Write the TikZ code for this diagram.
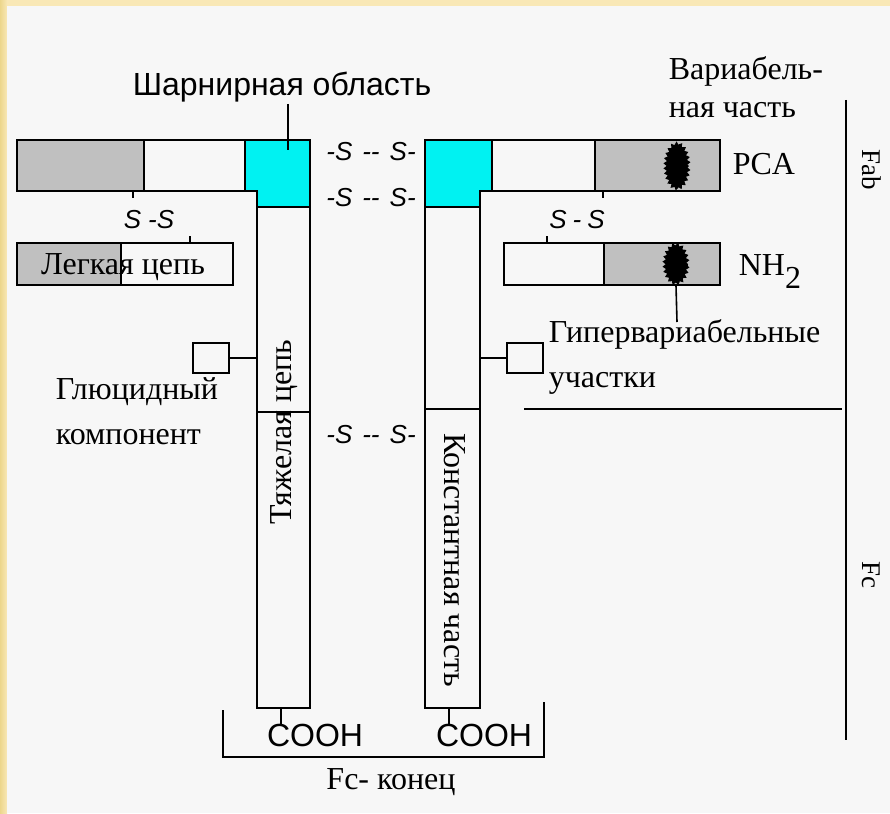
\documentclass[tikz,border=0pt]{standalone}
\usepackage{fontspec}
\usetikzlibrary{shapes.geometric,decorations.pathmorphing}
\setmainfont{Liberation Serif}
\newfontfamily\labsans{Liberation Sans}
\definecolor{framecol}{RGB}{249,232,182}
\definecolor{framedark}{RGB}{236,214,140}
\definecolor{panelcol}{RGB}{247,247,247}
\definecolor{greyfill}{RGB}{192,192,192}
\definecolor{hingecol}{RGB}{0,242,242}
\tikzset{
  serif/.style={inner sep=0pt, font=\fontsize{32}{36}\selectfont, text height=22pt, text depth=7pt},
  sidelab/.style={inner sep=0pt, font=\fontsize{27}{30}\selectfont},
  sanslab/.style={inner sep=0pt, font=\labsans\fontsize{32}{36}\selectfont, text height=23pt, text depth=7pt},
  sslab/.style={inner sep=0pt, font=\labsans\itshape\fontsize{26}{30}\selectfont},
  sugar/.style={draw, fill=panelcol, minimum width=36pt, minimum height=30pt, inner sep=0pt},
  greybox/.style={fill=greyfill},
  hingebox/.style={fill=hingecol},
  blobshape/.style={ellipse, inner sep=0pt},
  blobfill/.style={fill=black, decorate, decoration={zigzag, segment length=5pt, amplitude=1.6pt}}
}
\newcommand{\sbond}{-S\hspace{10pt}-{}-\hspace{10pt}S-}
\begin{document}
\begin{tikzpicture}[x=1pt,y=-1pt,line width=1.6pt]
\useasboundingbox (0,0) rectangle (890,813);
% frame and panel
\fill[framecol] (0,0) rectangle (890,813);
\shade[left color=framedark, right color=framecol] (0,0) rectangle (7,813);
\fill[panelcol] (7,6) rectangle (890,813);

% ---------- left heavy chain ----------
\fill[greybox] (17,140) rectangle (144,191);
\fill[hingebox] (245,140) -- (310,140) -- (310,207) -- (257,207) -- (257,191) -- (245,191) -- cycle;
\draw (17,140) -- (310,140) -- (310,708) -- (257,708) -- (257,191) -- (17,191) -- cycle;
\draw (144,140) -- (144,191);
\draw (245,140) -- (245,191);
\draw (257,207) -- (310,207);
\draw (257,412) -- (310,412);

% ---------- right heavy chain ----------
\fill[greybox] (595,140) rectangle (720,191);
\fill[hingebox] (425,140) -- (492,140) -- (492,191) -- (480,191) -- (480,207) -- (425,207) -- cycle;
\draw (425,140) -- (720,140) -- (720,191) -- (480,191) -- (480,708) -- (425,708) -- cycle;
\draw (492,140) -- (492,191);
\draw (595,140) -- (595,191);
\draw (425,207) -- (480,207);
\draw (425,409) -- (480,409);

% ---------- light chains ----------
\fill[greybox] (17,243) rectangle (121,285);
\draw (17,243) rectangle (233,285);
\draw (121,243) -- (121,285);
\fill[greybox] (604,243) rectangle (720,285);
\draw (504,243) rectangle (720,285);
\draw (604,243) -- (604,285);

% ---------- hypervariable blobs ----------
\node[blobshape, minimum width=27pt, minimum height=48pt] (blobA) at (677,166) {};
\node[blobshape, minimum width=27pt, minimum height=42pt] (blobB) at (676,264) {};
\fill[blobfill] (677,166) ellipse (12pt and 23pt);
\fill[blobfill] (676,264) ellipse (12pt and 20pt);

% ---------- texts ----------
\node[sanslab] (hingelab) at (282,88) {Шарнирная область};
\node[serif, anchor=west] (varA) at (668,72) {Вариабель-};
\node[serif, anchor=west] (varB) at (668,110) {ная часть};
\node[serif, anchor=west] (pca) at (732,167) {PCA};
\node[serif, anchor=west] (nh2) at (738,268) {NH\raisebox{-13pt}{2}};
\node[serif] (lclab) at (123,267) {Легкая цепь};
\node[serif, anchor=west] (glyA) at (55,392) {Глюцидный};
\node[serif, anchor=west] (glyB) at (55,437) {компонент};
\node[serif, anchor=west] (hypA) at (548,335) {Гипервариабельные};
\node[serif, anchor=west] (hypB) at (548,380) {участки};
\node[serif, rotate=90] (hclab) at (284,432) {Тяжелая цепь};
\node[serif, rotate=-90] (constlab) at (452,560) {Константная часть};
\node[sanslab] (coohA) at (315,738) {COOH};
\node[sanslab] (coohB) at (484,738) {COOH};
\node[serif] (fcend) at (391,782) {Fc- конец};
\node[sidelab, rotate=-90] (fab) at (872,170) {Fab};
\node[sidelab, rotate=-90] (fc) at (871,575) {Fc};

\node[sslab] (ssA) at (371,152) {\sbond};
\node[sslab] (ssB) at (371,198) {\sbond};
\node[sslab] (ssC) at (371,435) {\sbond};
\node[sslab] (ssL) at (149,220) {S\hspace{7pt}-S};
\node[sslab] (ssR) at (577,220) {S\hspace{6pt}-\hspace{6pt}S};

% ---------- sugar boxes ----------
\node[sugar] (sugL) at (211,358) {};
\node[sugar] (sugR) at (525,358) {};
\coordinate (hcLedge) at (257,358);
\coordinate (hcRedge) at (480,358);
\draw (sugL.east) -- (hcLedge);
\draw (sugR.west) -- (hcRedge);

% ---------- ticks ----------
\coordinate (hingeTop) at (288,104);
\coordinate (hingeIn) at (288,150);
\draw (hingeTop) -- (hingeIn);
\coordinate (tLa) at (133,191); \coordinate (tLb) at (133,198);
\draw (tLa) -- (tLb);
\coordinate (tLc) at (190,236); \coordinate (tLd) at (190,243);
\draw (tLc) -- (tLd);
\coordinate (tRa) at (603,191); \coordinate (tRb) at (603,198);
\draw (tRa) -- (tRb);
\coordinate (tRc) at (547,236); \coordinate (tRd) at (547,243);
\draw (tRc) -- (tRd);
\coordinate (blobAbot) at (677,191);
\draw (blobA.south) -- (blobAbot);
\coordinate (hypEnd) at (677,322);
\draw (blobB.south) -- (hypEnd);
\coordinate (cA1) at (281,708); \coordinate (cA2) at (281,725);
\draw (cA1) -- (cA2);
\coordinate (cB1) at (449,708); \coordinate (cB2) at (449,725);
\draw (cB1) -- (cB2);

% ---------- bracket and side lines ----------
\coordinate (brA) at (223,710);
\coordinate (brB) at (223,757);
\coordinate (brC) at (544,757);
\coordinate (brD) at (544,702);
\draw (brA) -- (brB) -- (brC) -- (brD);
\coordinate (sideTop) at (846,100);
\coordinate (sideBot) at (846,740);
\draw (sideTop) -- (sideBot);
\coordinate (divL) at (524,409);
\coordinate (divR) at (842,409);
\draw (divL) -- (divR);
\end{tikzpicture}
\end{document}
